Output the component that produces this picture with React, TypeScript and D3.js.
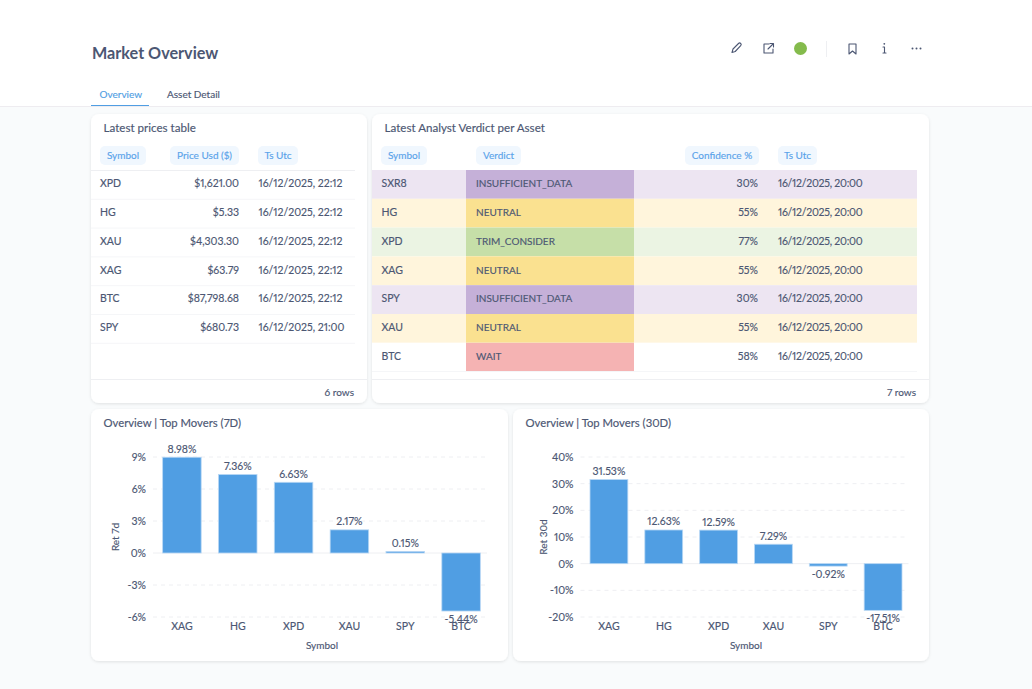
import * as d3 from 'd3';

const priceSymbols = ['XPD', 'HG', 'XAU', 'XAG', 'BTC', 'SPY'];
const priceValues = ['$1,621.00', '$5.33', '$4,303.30', '$63.79', '$87,798.68', '$680.73'];
const priceTimes = ['16/12/2025, 22:12', '16/12/2025, 22:12', '16/12/2025, 22:12', '16/12/2025, 22:12', '16/12/2025, 22:12', '16/12/2025, 21:00'];

const verdictSymbols = ['SXR8', 'HG', 'XPD', 'XAG', 'SPY', 'XAU', 'BTC'];
const verdictValues = ['INSUFFICIENT_DATA', 'NEUTRAL', 'TRIM_CONSIDER', 'NEUTRAL', 'INSUFFICIENT_DATA', 'NEUTRAL', 'WAIT'];
const verdictConfidence = [30, 55, 77, 55, 30, 55, 58];
const verdictTime = '16/12/2025, 20:00';

const symbols7d = ['XAG', 'HG', 'XPD', 'XAU', 'SPY', 'BTC'];
const returns7d = [8.98, 7.36, 6.63, 2.17, 0.15, -5.44];
const ticks7d = [9, 6, 3, 0, -3, -6];

const symbols30d = ['XAG', 'HG', 'XPD', 'XAU', 'SPY', 'BTC'];
const returns30d = [31.53, 12.63, 12.59, 7.29, -0.92, -17.51];
const ticks30d = [40, 30, 20, 10, 0, -10, -20];

const FONT = 'Lato, sans-serif';
const TEXT = '#4c5773';
const BLUE = '#509ee3';

// regular Lato with a hairline stroke, closer to the reference's medium weight
const medium = { fontWeight: 400, stroke: 'currentColor', strokeWidth: 0.15 };

// light = row tint, dark = verdict cell
const VERDICT_COLORS: Record<string, { light: string; dark: string }> = {
  INSUFFICIENT_DATA: { light: '#ede5f2', dark: '#c5b0d8' },
  NEUTRAL: { light: '#fff5dc', dark: '#fae190' },
  TRIM_CONSIDER: { light: '#ebf4e3', dark: '#c6dfa8' },
  WAIT: { light: '#ffffff', dark: '#f5b3b3' },
};

function Card({ x, y, w, h, title, titleSize = 11.6 }: { x: number; y: number; w: number; h: number; title: string; titleSize?: number }) {
  return (
    <g>
      <rect x={x} y={y} width={w} height={h} rx={8} fill="#fff" filter="url(#cardShadow)" />
      <text x={x + 12.5} y={y + 18} fontSize={titleSize} fill={TEXT} color={TEXT} {...medium}>
        {title}
      </text>
    </g>
  );
}

function Pill({ x, w, label }: { x: number; w: number; label: string }) {
  return (
    <g>
      <rect x={x} y={146} width={w} height={19} rx={5} fill="#f0f7fe" />
      <text x={x + w / 2} y={159} textAnchor="middle" fontSize={10} fill="#5aa3ea" color="#5aa3ea" {...medium}>
        {label}
      </text>
    </g>
  );
}

function Footer({ x0, x1, label }: { x0: number; x1: number; label: string }) {
  return (
    <g>
      <line x1={x0} x2={x1} y1={379.5} y2={379.5} stroke="#eeeff2" />
      <text x={x1 - 13} y={396} textAnchor="end" fontSize={10} fill={TEXT} color={TEXT} {...medium}>
        {label}
      </text>
    </g>
  );
}

function PricesTable() {
  const y = d3.scaleBand<number>().domain(d3.range(priceSymbols.length)).range([170, 170 + 28.8 * priceSymbols.length]);
  return (
    <g>
      <Card x={91} y={114} w={276} h={289} title="Latest prices table" />
      <Pill x={100} w={46} label="Symbol" />
      <Pill x={170} w={69} label="Price Usd ($)" />
      <Pill x={258} w={40} label="Ts Utc" />
      <line x1={91} x2={355} y1={170.5} y2={170.5} stroke="#eeeff2" />
      {priceSymbols.map((s, i) => {
        const cy = y(i)! + y.bandwidth() / 2 + 2.8;
        return (
          <g key={s}>
            <line x1={91} x2={355} y1={y(i)! + y.bandwidth() + 0.5} y2={y(i)! + y.bandwidth() + 0.5} stroke="#f5f6f8" />
            <g fontSize={10.5} fill={TEXT} color={TEXT} {...medium}>
              <text x={100} y={cy}>{s}</text>
              <text x={239} y={cy} textAnchor="end">{priceValues[i]}</text>
              <text x={258.5} y={cy}>{priceTimes[i]}</text>
            </g>
          </g>
        );
      })}
      <Footer x0={91} x1={367} label="6 rows" />
    </g>
  );
}

function VerdictTable() {
  const y = d3.scaleBand<number>().domain(d3.range(verdictSymbols.length)).range([170, 170 + 28.8 * verdictSymbols.length]);
  return (
    <g>
      <Card x={372} y={114} w={557} h={289} title="Latest Analyst Verdict per Asset" />
      <Pill x={381} w={46} label="Symbol" />
      <Pill x={476} w={45} label="Verdict" />
      <Pill x={685} w={74} label="Confidence %" />
      <Pill x={778} w={39} label="Ts Utc" />
      {verdictSymbols.map((s, i) => {
        const c = VERDICT_COLORS[verdictValues[i]];
        const top = y(i)!;
        const cy = top + y.bandwidth() / 2 + 2.8;
        return (
          <g key={s}>
            <rect x={372} y={top} width={545} height={y.bandwidth()} fill={c.light} />
            <rect x={466} y={top} width={168} height={y.bandwidth()} fill={c.dark} />
            <g fontSize={10.5} fill={TEXT} color={TEXT} {...medium}>
              <text x={381.5} y={cy}>{s}</text>
              <text x={476} y={cy} fontSize={10}>{verdictValues[i]}</text>
              <text x={758} y={cy} textAnchor="end">{verdictConfidence[i]}%</text>
              <text x={778} y={cy} letterSpacing={-0.25}>{verdictTime}</text>
            </g>
          </g>
        );
      })}
      <line x1={372} x2={917} y1={371.5} y2={371.5} stroke="#f5f6f8" />
      <Footer x0={372} x1={929} label="7 rows" />
    </g>
  );
}

interface BarChartProps {
  card: { x: number; w: number };
  title: string;
  yLabel: string;
  categories: string[];
  values: number[];
  ticks: number[];
  plotX: [number, number];
  titleX: number;
}

function BarChart({ card, title, yLabel, categories, values, ticks, plotX, titleX }: BarChartProps) {
  const x = d3.scaleBand<string>().domain(categories).range(plotX).paddingInner(0.31).paddingOuter(0.155);
  const y = d3.scaleLinear().domain([d3.min(ticks)!, d3.max(ticks)!]).range([617, 457]);
  return (
    <g>
      <Card x={card.x} y={409} w={card.w} h={252} title={title} titleSize={11.3} />
      {ticks.map((t) => (
        <g key={t}>
          <line
            x1={plotX[0] - 1}
            x2={plotX[1] - 2}
            y1={y(t)}
            y2={y(t)}
            stroke="#eeeff2"
            strokeDasharray={t === 0 ? undefined : '4 4'}
          />
          <text x={plotX[0] - 8} y={y(t) + 4} textAnchor="end" fontSize={10.5} fill={TEXT} color={TEXT} {...medium}>
            {t}%
          </text>
        </g>
      ))}
      {categories.map((c, i) => {
        const v = values[i];
        const top = y(Math.max(v, 0));
        const h = Math.abs(y(v) - y(0));
        const cx = x(c)! + x.bandwidth() / 2;
        return (
          <g key={c}>
            <rect x={x(c)} y={top} width={x.bandwidth()} height={h} fill={BLUE} stroke="#b9d8f4" strokeWidth={0.8} />
            <text x={cx} y={629.5} textAnchor="middle" fontSize={10.5} fill={TEXT} color={TEXT} {...medium}>{c}</text>
            <text
              x={cx}
              y={v >= 0 ? top - 4.5 : y(v) + 12}
              textAnchor="middle"
              fontSize={10.5}
              fill={TEXT}
              color={TEXT}
              {...medium}
            >
              {v.toFixed(2)}%
            </text>
          </g>
        );
      })}
      <text x={titleX} y={649} textAnchor="middle" fontSize={10} fill={TEXT} color={TEXT} {...medium}>Symbol</text>
      <text
        transform={`translate(${plotX[0] - 35},537) rotate(-90)`}
        textAnchor="middle"
        fontSize={10}
        fill={TEXT}
        color={TEXT}
        {...medium}
      >
        {yLabel}
      </text>
    </g>
  );
}

function HeaderIcons() {
  const stroke = { fill: 'none', stroke: TEXT, strokeWidth: 1.1, strokeLinejoin: 'round' as const, strokeLinecap: 'round' as const };
  return (
    <g>
      <path d="M732 52.500l1-3.500 5.500-5.500a1.500 1.500 0 0 1 2.200 2.200L735.200 51.500z" {...stroke} />
      <path d="M769 44h-5v9h9v-4M768 49l5-5M770 43.500h3.500V47" {...stroke} />
      <circle cx={800.500} cy={48.500} r={6.500} fill="#84bb4c" />
      <line x1={826.500} x2={826.500} y1={41} y2={57} stroke="#eeeff2" />
      <path d="M849 44h7v10l-3.500-3-3.500 3z" {...stroke} />
      <path d="M883 47h1.500v6M883 53h3" {...stroke} />
      <circle cx={884.300} cy={43.800} r={0.900} fill={TEXT} />
      {[912.500, 916.500, 920.500].map((cx) => (
        <circle key={cx} cx={cx} cy={48.500} r={1} fill={TEXT} />
      ))}
    </g>
  );
}

export default function App() {
  return (
    <svg
      width={1032}
      height={689}
      style={{ position: 'absolute', left: 0, top: 0, display: 'block', fontFamily: FONT, fontVariantNumeric: 'proportional-nums' }}
    >
      <defs>
        <filter id="cardShadow" x="-5%" y="-5%" width="110%" height="110%">
          <feDropShadow dx={0} dy={1} stdDeviation={1.5} floodColor="#000" floodOpacity={0.1} />
        </filter>
      </defs>
      <rect width={1032} height={689} fill="#f9fbfc" />
      <rect width={1032} height={106} fill="#fff" />
      <line x1={0} x2={1032} y1={106.500} y2={106.500} stroke="#eeecf0" />
      <text x={92} y={59} fontSize={16.200} fill={TEXT} color={TEXT} fontWeight={700}>Market Overview</text>
      <text x={99.500} y={97.500} fontSize={10} fill={BLUE} color={BLUE} {...medium}>Overview</text>
      <line x1={91} x2={149} y1={105.500} y2={105.500} stroke={BLUE} strokeWidth={1.200} />
      <text x={167} y={97.500} fontSize={10} fill={TEXT} color={TEXT} {...medium}>Asset Detail</text>
      <HeaderIcons />
      <PricesTable />
      <VerdictTable />
      <BarChart
        card={{ x: 91, w: 417 }}
        title="Overview | Top Movers (7D)"
        yLabel="Ret 7d"
        categories={symbols7d}
        values={returns7d}
        ticks={ticks7d}
        plotX={[154, 489]}
        titleX={322}
      />
      <BarChart
        card={{ x: 513, w: 416 }}
        title="Overview | Top Movers (30D)"
        yLabel="Ret 30d"
        categories={symbols30d}
        values={returns30d}
        ticks={ticks30d}
        plotX={[581.500, 910.500]}
        titleX={746}
      />
    </svg>
  );
}
